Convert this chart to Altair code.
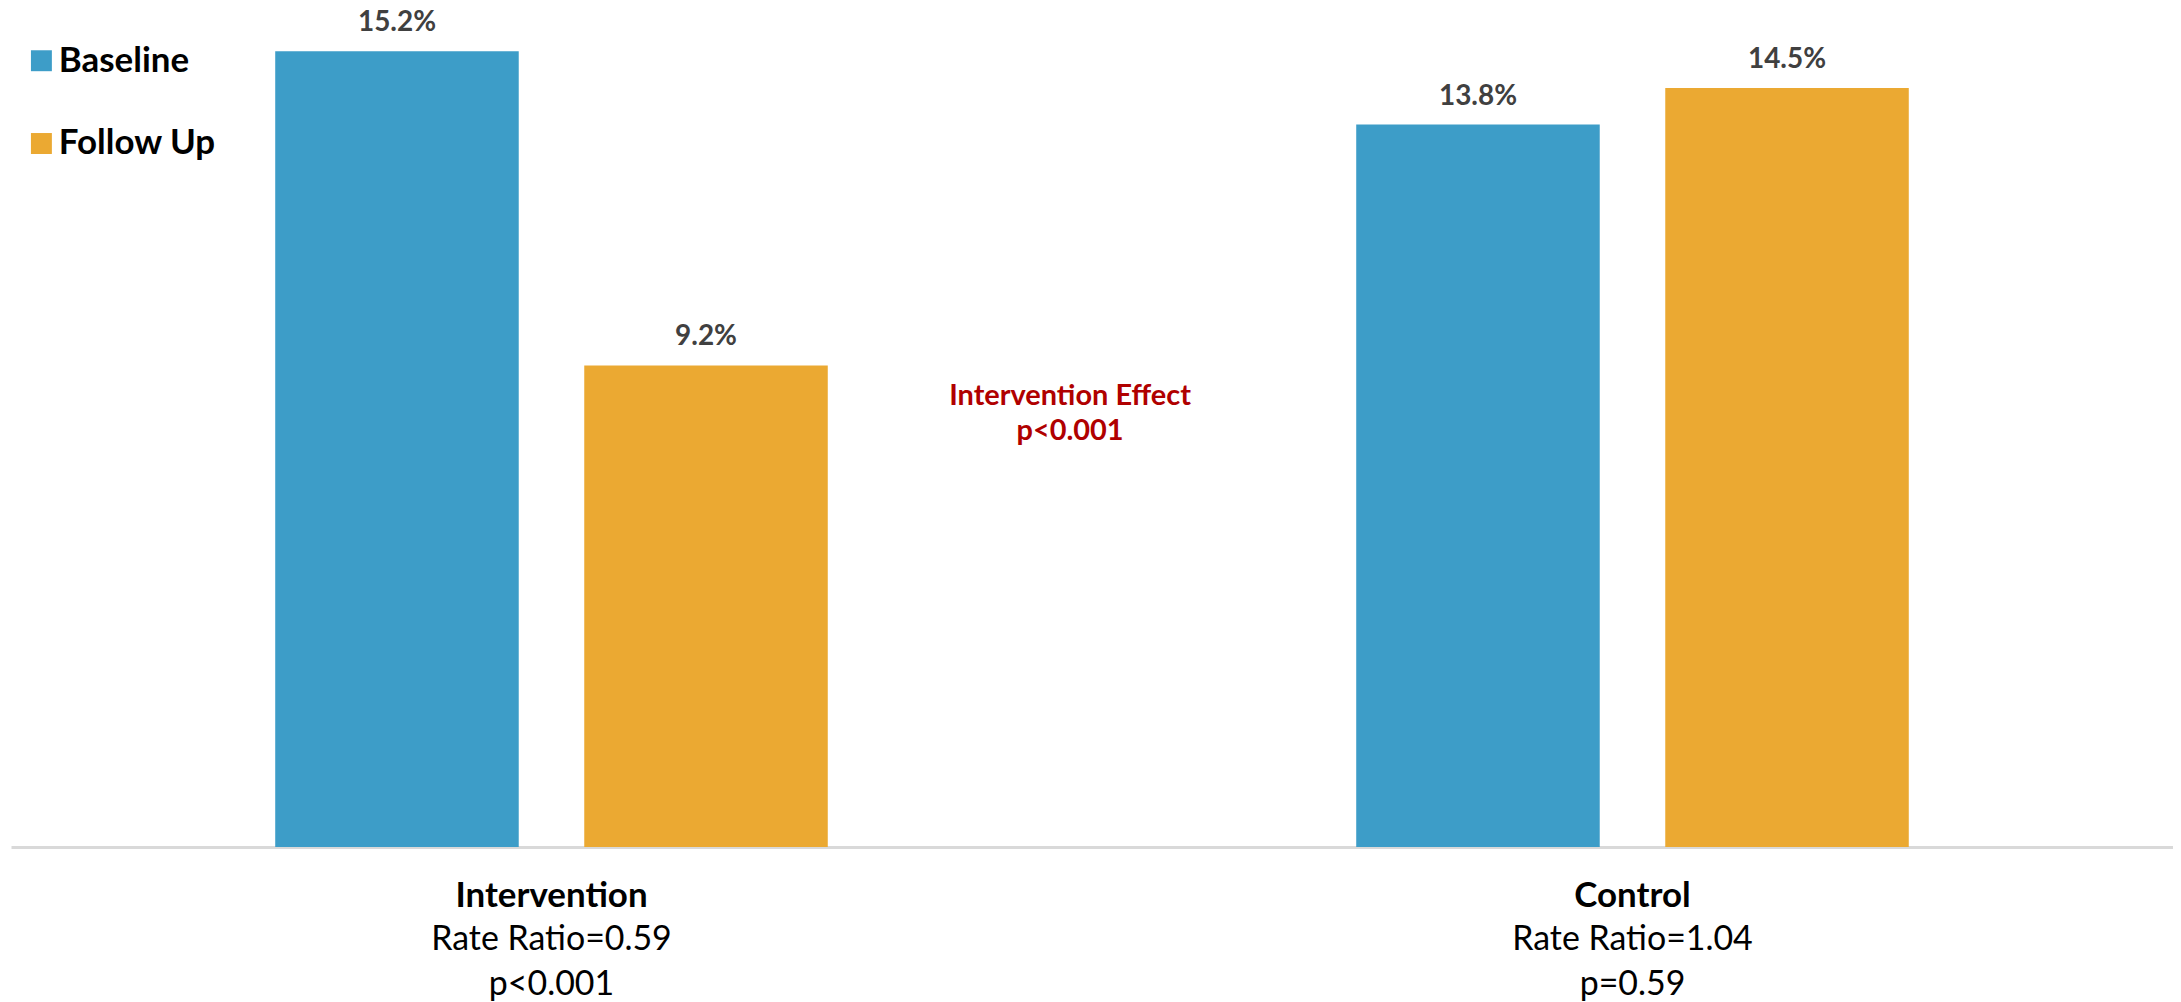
import altair as alt
import pandas as pd

groups = ["Intervention", "Control"]
periods = ["Baseline", "Follow Up"]
baseline_rates = [15.2, 13.8]
followup_rates = [9.2, 14.5]
rate_ratio_lines = ["Rate Ratio=0.59\np<0.001", "Rate Ratio=1.04\np=0.59"]
effect_text = "Intervention Effect\np<0.001"
colors = ["#3D9DC8", "#EBA932"]

rows = []
for g, b, f in zip(groups, baseline_rates, followup_rates):
    rows.append({"group": g, "period": periods[0], "rate": b})
    rows.append({"group": g, "period": periods[1], "rate": f})
df = pd.DataFrame(rows)
sub_df = pd.DataFrame({"group": groups, "sub": rate_ratio_lines})
eff_df = pd.DataFrame({"txt": [effect_text]})

FONT = "Lato"
W, H = 2168, 840

x = alt.X(
    "group:N",
    sort=groups,
    scale=alt.Scale(paddingInner=0, paddingOuter=0),
    axis=alt.Axis(
        title=None, labelAngle=0, ticks=False, grid=False, labelLimit=0,
        labelFont=FONT, labelFontSize=35, labelFontWeight="bold",
        labelColor="#000000", labelPadding=60, labelBaseline="alphabetic",
        domainColor="#D9D9D9", domainWidth=3,
    ),
)
xo = alt.XOffset("period:N", sort=periods,
                 scale=alt.Scale(paddingInner=0.212, paddingOuter=0.855))
y = alt.Y("rate:Q", scale=alt.Scale(domain=[0, 16]), axis=None)

bars = alt.Chart(df).mark_bar().encode(
    x=x, xOffset=xo, y=y,
    color=alt.Color(
        "period:N", sort=periods,
        scale=alt.Scale(domain=periods, range=colors),
        legend=alt.Legend(
            title=None, orient="none", legendX=13, legendY=34,
            symbolType="square", symbolSize=441, symbolStrokeWidth=0,
            symbolOpacity=1,
            labelFont=FONT, labelFontSize=35, labelFontWeight="bold",
            labelColor="#000000", labelOffset=0, rowPadding=47, padding=0,
        ),
    ),
)

labels = alt.Chart(df).transform_calculate(
    lab="format(datum.rate, '.1f') + '%'"
).mark_text(
    dy=-20, baseline="alphabetic", align="center",
    font=FONT, fontSize=28, fontWeight="bold", color="#404040",
).encode(x=x, xOffset=xo, y=y, text="lab:N")

sub = alt.Chart(sub_df).mark_text(
    baseline="alphabetic", align="center", lineBreak="\n", lineHeight=45,
    font=FONT, fontSize=34, color="#000000",
).encode(x=x, y=alt.value(943), text="sub:N")

eff = alt.Chart(eff_df).mark_text(
    baseline="alphabetic", align="center", lineBreak="\n", lineHeight=35,
    font=FONT, fontSize=29, fontWeight="bold", color="#B00000",
).encode(x=alt.value(1062), y=alt.value(397), text="txt:N")

chart = alt.layer(bars, labels, sub, eff).properties(
    width=W, height=H,
    autosize=alt.AutoSizeParams(type="none"),
    padding={"left": 3, "top": 0, "right": 0, "bottom": 154},
).configure_view(stroke=None)

chart.save("out.html", embed_options={"renderer": "svg", "actions": False})
